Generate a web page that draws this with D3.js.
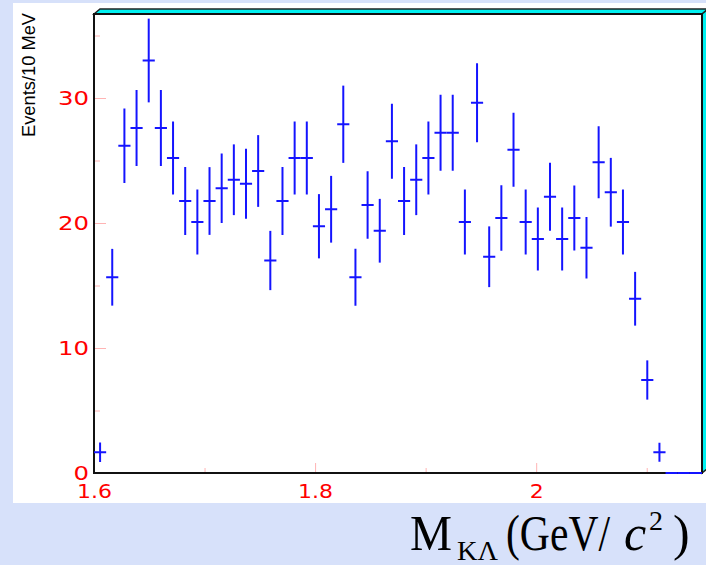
<!DOCTYPE html>
<html>

<head>
    <meta charset="utf-8">
    <title>M(K Lambda) spectrum</title>
    <script src="https://d3js.org/d3.v7.min.js"></script>
    <style>
        body { margin: 0; background: #d7e1fa; }
        svg { display: block; }
    </style>
</head>

<body>
    <svg width="706" height="565"></svg>

    <script>
        // binning: 50 bins of 11 MeV starting at 1.6 GeV
        const binLow = 1.6;
        const binWidth = 0.011;

        // events per bin and error
        const counts = [1.66, 15.66, 26.18, 27.6, 33.0, 27.6, 25.2, 21.76, 20.08, 21.76,
            22.78, 23.46, 23.14, 24.16, 17.0, 21.76, 25.2, 25.2, 19.74, 21.1,
            27.9, 15.66, 21.44, 19.38, 26.54, 21.76, 23.46, 25.2, 27.22, 27.22,
            20.08, 29.62, 17.3, 20.4, 25.86, 20.08, 18.72, 22.1, 18.72, 20.4,
            18.02, 24.86, 22.46, 20.08, 13.94, 7.44, 1.66, 0, 0, 0];
        const errors = [0.78, 2.27, 2.98, 3.04, 3.35, 3.04, 2.92, 2.72, 2.6, 2.71,
            2.78, 2.83, 2.8, 2.87, 2.37, 2.72, 2.92, 2.92, 2.57, 2.67,
            3.09, 2.28, 2.7, 2.55, 3.0, 2.72, 2.83, 2.92, 3.04, 3.04,
            2.6, 3.16, 2.43, 2.62, 2.96, 2.6, 2.52, 2.72, 2.52, 2.6,
            2.46, 2.88, 2.75, 2.6, 2.15, 1.57, 0.76, 0, 0, 0];

        const yTicks = [0, 10, 20, 30];
        const yMinor = [5, 15, 25, 35];
        const xTicks = [1.6, 1.8, 2.0];
        const xMinor = [1.7, 1.9, 2.1];

        const bins = counts.map((v, i) => ({
            lo: binLow + i * binWidth,
            hi: binLow + (i + 1) * binWidth,
            v: v,
            e: errors[i]
        }));

        const svg = d3.select("svg");
        const padL = 94, padR = 702, padT = 14, padB = 473;

        const x = d3.scaleLinear().domain([1.6, 2.15]).range([padL, padR]);
        const y = d3.scaleLinear().domain([0, 36.72]).range([padB, padT]);

        // white panel
        svg.append("rect")
            .attr("x", 13).attr("y", 3)
            .attr("width", 693).attr("height", 500)
            .attr("fill", "#fff");

        // cyan bevel of the frame
        svg.append("polygon")
            .attr("points", `${padL},${padT} ${padL + 6},${padT - 5} ${padR + 6},${padT - 5} ${padR},${padT}`)
            .attr("fill", "#00f0f0").attr("stroke", "#222").attr("stroke-width", 1.5);
        svg.append("polygon")
            .attr("points", `${padR},${padT} ${padR + 6},${padT - 5} ${padR + 6},${padB - 5} ${padR},${padB}`)
            .attr("fill", "#00f0f0").attr("stroke", "#222").attr("stroke-width", 1.5);

        // axes
        const yAxis = svg.append("g")
            .attr("transform", `translate(${padL},0)`)
            .call(d3.axisLeft(y).tickValues(yTicks).tickSize(-12).tickPadding(4));
        svg.append("g")
            .attr("transform", `translate(${padL},0)`)
            .call(d3.axisLeft(y).tickValues(yMinor).tickSize(-6).tickFormat(""));

        const xAxis = svg.append("g")
            .attr("transform", `translate(0,${padB})`)
            .call(d3.axisBottom(x).tickValues(xTicks).tickSize(-10).tickPadding(11)
                .tickFormat(d => String(+d.toFixed(1))));
        svg.append("g")
            .attr("transform", `translate(0,${padB})`)
            .call(d3.axisBottom(x).tickValues(xMinor).tickSize(-5).tickFormat(""));

        svg.selectAll(".domain").remove();
        svg.selectAll(".tick line").attr("stroke", "#ffb4b4").attr("stroke-width", 1);
        svg.selectAll(".tick text")
            .attr("fill", "#ff0000")
            .attr("font-family", "DejaVu Sans, sans-serif")
            .attr("font-size", 20);
        yAxis.selectAll(".tick text").attr("transform", "scale(1.22,1)");
        xAxis.selectAll(".tick text").attr("transform", "scale(1.1,1)");

        // frame
        svg.append("rect")
            .attr("x", padL).attr("y", padT)
            .attr("width", padR - padL).attr("height", padB - padT)
            .attr("fill", "none").attr("stroke", "#111").attr("stroke-width", 2);

        // error bars
        const marks = svg.append("g")
            .attr("stroke", "#1414ff").attr("stroke-width", 2);

        marks.selectAll(".hbar")
            .data(bins)
            .enter()
            .append("line")
            .attr("class", "hbar")
            .attr("x1", d => x(d.lo))
            .attr("x2", d => x(d.hi))
            .attr("y1", d => y(d.v))
            .attr("y2", d => y(d.v));

        marks.selectAll(".vbar")
            .data(bins.filter(d => d.e > 0))
            .enter()
            .append("line")
            .attr("class", "vbar")
            .attr("x1", d => x((d.lo + d.hi) / 2))
            .attr("x2", d => x((d.lo + d.hi) / 2))
            .attr("y1", d => y(d.v - d.e))
            .attr("y2", d => y(d.v + d.e));

        // y title
        svg.append("text")
            .attr("transform", "translate(35,75) rotate(-90)")
            .attr("text-anchor", "middle")
            .attr("font-family", "Liberation Sans, Arial, sans-serif")
            .attr("font-size", 18)
            .attr("textLength", 124)
            .attr("lengthAdjust", "spacingAndGlyphs")
            .text("Events/10 MeV");

        // x title
        const xt = svg.append("text")
            .attr("font-family", "Liberation Serif, Times New Roman, serif")
            .attr("fill", "#000");
        xt.append("tspan").attr("x", 410).attr("y", 550).attr("font-size", 50)
            .attr("textLength", 42).attr("lengthAdjust", "spacingAndGlyphs").text("M");
        xt.append("tspan").attr("x", 457).attr("y", 560).attr("font-size", 27)
            .attr("textLength", 41).attr("lengthAdjust", "spacingAndGlyphs").text("KΛ");
        xt.append("tspan").attr("x", 506).attr("y", 550).attr("font-size", 50)
            .attr("textLength", 104).attr("lengthAdjust", "spacingAndGlyphs").text("(GeV/");
        xt.append("tspan").attr("x", 624).attr("y", 550).attr("font-size", 50)
            .attr("font-style", "italic").text("c");
        xt.append("tspan").attr("x", 649).attr("y", 530).attr("font-size", 28).text("2");
        xt.append("tspan").attr("x", 673).attr("y", 550).attr("font-size", 50).text(")");
    </script>
</body>

</html>
